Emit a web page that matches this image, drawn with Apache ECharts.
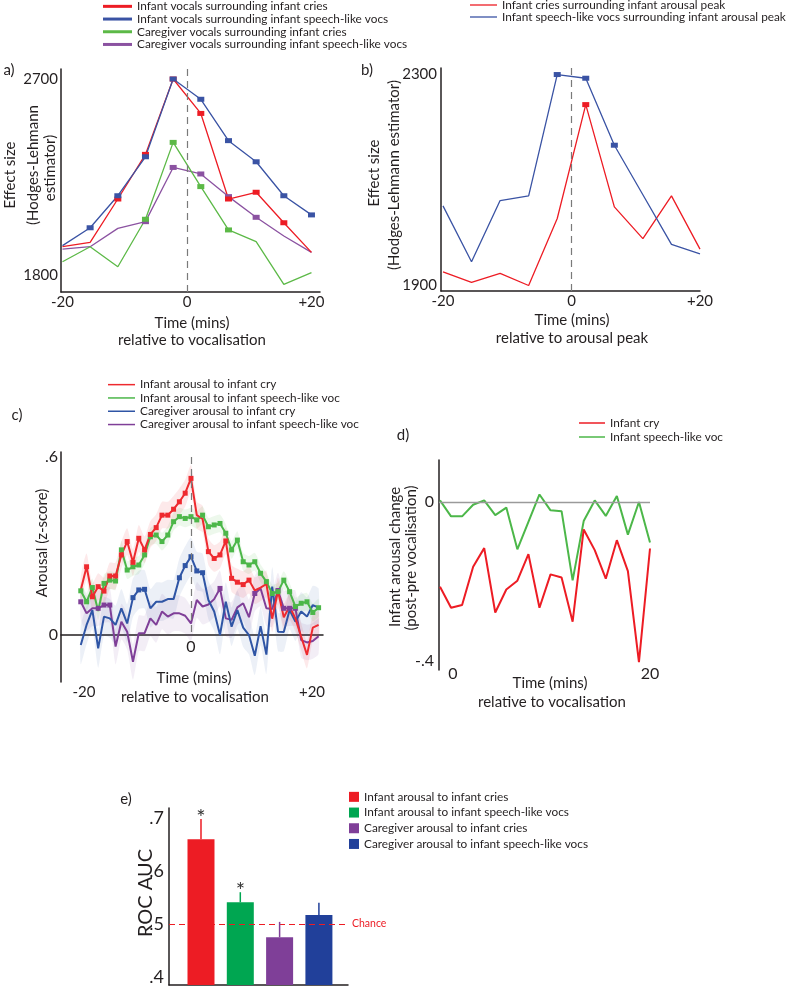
<!DOCTYPE html>
<html><head><meta charset="utf-8">
<script src="https://cdn.jsdelivr.net/npm/echarts@6/dist/echarts.min.js"></script>
<style>html,body{margin:0;padding:0;background:#fff}#c{width:789px;height:987px}</style>
</head><body><div id="c"></div>
<script>
// ---------- data ----------
// a) effect size around vocalisations
const aX = [-20, -15.56, -11.11, -6.67, -2.22, 2.22, 6.67, 11.11, 15.56, 20];
const aRed = [1930, 1950, 2149, 2354, 2700, 2542, 2149, 2180, 2040, 1904];
const aBlue = [1935, 2017, 2164, 2343, 2700, 2607, 2417, 2320, 2164, 2076];
const aGreen = [1861, 1930, 1838, 2056, 2409, 2206, 2007, 1953, 1757, 1811];
const aPurple = [1919, 1930, 2014, 2045, 2294, 2264, 2160, 2065, 1979, 1904];
const aRedMarks = [2, 3, 4, 5, 6, 7, 8];
const aBlueMarks = [1, 2, 3, 4, 5, 6, 7, 8, 9];
const aGreenMarks = [3, 4, 5, 6];
const aPurpleMarks = [3, 4, 5, 6, 7];
const aNames = ['Infant vocals surrounding infant cries', 'Infant vocals surrounding infant speech-like vocs',
  'Caregiver vocals surrounding infant cries', 'Caregiver vocals surrounding infant speech-like vocs'];
const aTicksX = [-20, 0, 20];
const aTicksY = [1800, 2700];

// b) effect size around arousal peak
const bX = [-20, -15.56, -11.11, -6.67, -2.22, 2.22, 6.67, 11.11, 15.56, 20];
const bRed = [1925, 1905, 1922, 1899, 2026, 2242, 2048, 1988, 2069, 1968];
const bBlue = [2050, 1944, 2060, 2069, 2299, 2292, 2165, 2071, 1977, 1959];
const bRedMarks = [5];
const bBlueMarks = [4, 5, 6];
const bNames = ['Infant cries surrounding infant arousal peak', 'Infant speech-like vocs surrounding infant arousal peak'];
const bTicksX = [-20, 0, 20];
const bTicksY = [1900, 2300];

// c) arousal time course
const cX = [-19,-18,-17,-16,-15,-14,-13,-12,-11,-10,-9,-8,-7,-6,-5,-4,-3,-2,-1,0,1,2,3,4,5,6,7,8,9,10,11,12,13,14,15,16,17,18,19,20,21,22];
const cRed = [0.152,0.230,0.129,0.163,0.148,0.199,0.199,0.270,0.315,0.245,0.326,0.287,0.339,0.362,0.404,0.404,0.424,0.449,0.478,0.528,
  0.404,0.391,0.281,0.258,0.270,0.317,0.191,0.178,0.170,0.185,0.150,0.160,0.172,0.055,0.148,0.060,0.096,0.056,-0.006,-0.067,0.025,0.034];
const cGreen = [0.149,0.112,0.160,0.081,0.174,0.185,0.182,0.287,0.219,0.230,0.236,0.270,0.331,0.337,0.315,0.337,0.382,0.399,0.393,0.399,
  0.388,0.404,0.365,0.371,0.376,0.343,0.287,0.320,0.247,0.236,0.247,0.208,0.180,0.140,0.146,0.185,0.146,0.096,0.107,0.112,0.076,0.092];
const cBlue = [-0.034,0.034,0.084,-0.045,0.062,0.056,0.034,0.090,0.039,0.126,0.152,0.154,0.090,0.112,0.112,0.121,0.121,0.193,0.234,0.264,
  0.216,0.210,0.118,0.079,0.000,0.112,0.028,0.084,0.025,0.000,-0.070,0.030,-0.066,0.163,0.011,0.010,0.084,0.045,0.079,0.062,0.101,0.092];
const cPurple = [0.112,0.073,0.090,0.090,0.101,0.101,-0.039,0.045,0.011,-0.090,0.006,0.006,0.056,0.034,0.079,0.062,0.073,0.073,0.065,0.039,
  0.118,0.096,0.103,0.121,0.157,0.056,0.051,0.093,0.107,0.060,0.140,0.157,0.090,0.088,0.150,0.090,0.090,0.090,-0.017,-0.025,-0.020,-0.004];
const cRedCI = 0.045, cGreenCI = 0.03, cBlueCI = 0.065, cPurpleCI = 0.06;
const cRedMarks = [1,2,3,4,5,6,7,8,9,10,11,12,13,14,15,16,17,18,19,22,23,24,25,26,27,28,29];
const cGreenMarks = [0,1,2,4,5,6,7,8,9,10,11,12,13,14,15,16,17,18,19,20,21,22,23,24,25,26,27,28,29,30,31,32,33,34,35,36,37,38,39,40,41];
const cBlueMarks = [9,10,11,17,18,19,20,21];
const cPurpleMarks = [0,3,4,5,24,30,34,35,36,37];
const cNames = ['Infant arousal to infant cry', 'Infant arousal to infant speech-like voc',
  'Caregiver arousal to infant cry', 'Caregiver arousal to infant speech-like voc'];

// d) infant arousal change
const dX = [0,1,2,3,4,5,6,7,8,9,10,11,12,13,14,15,16,17,18,19];
const dRed = [-0.213,-0.266,-0.259,-0.163,-0.116,-0.278,-0.220,-0.198,-0.131,-0.266,-0.182,-0.190,-0.301,-0.069,-0.121,-0.193,-0.096,-0.174,-0.403,-0.117];
const dGreen = [0.004,-0.036,-0.036,-0.007,0.004,-0.033,-0.014,-0.119,-0.050,0.019,-0.021,-0.023,-0.197,-0.048,0.004,-0.035,0.015,-0.082,0.000,-0.102];
const dNames = ['Infant cry', 'Infant speech-like voc'];

// e) ROC AUC
const eNames = ['Infant arousal to infant cries', 'Infant arousal to infant speech-like vocs',
  'Caregiver arousal to infant cries', 'Caregiver arousal to infant speech-like vocs'];
const eX = [1, 2, 3, 4];
const eVals = [0.660, 0.541, 0.475, 0.517];
const eErrTop = [0.698, 0.560, 0.504, 0.540];
const eStar = [true, true, false, false];
const eTicks = [0.4, 0.5, 0.6, 0.7];
const eChance = 0.5;

// ---------- styling ----------
const FONT = 'Lato';
const INK = '#231f20';
const RED = '#ed1c24', BLUE = '#3a53a4', GREEN = '#5cb947', PURPLE = '#8b52a1';
const cRedC = '#ee2a2f', cGreenC = '#4cb749', cBlueC = '#2f55a5', cPurpleC = '#7f3f98';
const eColors = ['#ed1c24', '#00a651', '#7f3f98', '#21409a'];

function pts(xs, ys, marks) {
  return xs.map((x, i) => ({ value: [x, ys[i]], symbol: marks.indexOf(i) >= 0 ? 'rect' : 'none' }));
}
function lineSeries(name, xi, xs, ys, marks, color, width, size) {
  return {
    name, type: 'line', xAxisIndex: xi, yAxisIndex: xi, data: pts(xs, ys, marks),
    symbol: 'rect', symbolSize: size, showAllSymbol: true,
    lineStyle: { color, width }, itemStyle: { color }, emphasis: { disabled: true }, z: 3
  };
}
function bandSeries(vals, hw, color) {
  return {
    type: 'custom', xAxisIndex: 2, yAxisIndex: 2, silent: true, z: 1,
    data: cX.map((x, i) => [x, vals[i] - hw, vals[i] + hw]),
    encode: { x: 0, y: [1, 2] },
    renderItem: function (params, api) {
      if (params.dataIndex !== 0) return;
      const up = [], dn = [];
      for (let i = 0; i < cX.length; i++) {
        up.push(api.coord([cX[i], vals[i] + hw]));
        dn.push(api.coord([cX[i], vals[i] - hw]));
      }
      return { type: 'polygon', shape: { points: up.concat(dn.reverse()), smooth: 0.2 }, style: { fill: color } };
    }
  };
}
const pm = v => (v > 0 ? '+' + v : String(v));
const axLine = { show: true, onZero: false, lineStyle: { color: INK, width: 1.5 } };
const noTick = { show: false };
const noSplit = { show: false };
function lbl(vals, fmt, size, margin, extra) {
  return Object.assign({ customValues: vals, formatter: fmt, fontSize: size, margin, color: INK, fontFamily: FONT }, extra || {});
}
function legend(left, top, names, w, h, lh, icon) {
  return {
    left, top, orient: 'vertical', data: names, icon: icon || 'rect', itemWidth: w, itemHeight: h, itemGap: 0, padding: 0,
    selectedMode: false, textStyle: { fontSize: 11.8, fontFamily: FONT, color: INK, lineHeight: lh }
  };
}
function txt(x, y, text, size, rot, color) {
  return {
    type: 'text', x, y, rotation: rot ? Math.PI / 2 : 0, silent: true,
    style: { text, font: size + 'px ' + FONT, fill: color || INK, align: 'center', verticalAlign: 'middle' }
  };
}
const dash0 = { silent: true, symbol: 'none', label: { show: false }, lineStyle: { color: '#7a7a7a', type: [7, 5], width: 1.2 } };

const option = {
  animation: false,
  backgroundColor: '#ffffff',
  textStyle: { fontFamily: FONT },
  grid: [
    { left: 61, top: 69, width: 259, height: 223 },
    { left: 441, top: 68, width: 259, height: 223 },
    { left: 61, top: 452, width: 262, height: 230 },
    { left: 439, top: 460, width: 211, height: 210 },
    { left: 169, top: 808, width: 179, height: 177 }
  ],
  xAxis: [
    { gridIndex: 0, type: 'value', min: -20.24, max: 21.37, axisLine: axLine, axisTick: noTick, splitLine: noSplit,
      axisLabel: lbl(aTicksX, pm, 15, 3) },
    { gridIndex: 1, type: 'value', min: -20.31, max: 20, axisLine: axLine, axisTick: noTick, splitLine: noSplit,
      axisLabel: lbl(bTicksX, pm, 15, 3) },
    { gridIndex: 2, type: 'value', min: -22.41, max: 22.76, axisLine: { show: true, onZero: true, lineStyle: { color: INK, width: 1.5 } },
      axisTick: noTick, splitLine: noSplit, axisLabel: { show: false } },
    { gridIndex: 3, type: 'value', min: -0.09, max: 19, offset: -12, axisLine: { show: false, onZero: false }, axisTick: noTick, splitLine: noSplit,
      axisLabel: lbl([0, 19], v => (v < 10 ? '{z|0}' : '20'), 16, 8, { rich: { z: { padding: [0, 0, 0, 26], fontSize: 16, fontFamily: FONT, color: INK } } }) },
    { gridIndex: 4, type: 'value', min: 0.186, max: 4.74, axisLine: axLine, axisTick: noTick, splitLine: noSplit, axisLabel: { show: false } }
  ],
  yAxis: [
    { gridIndex: 0, type: 'value', min: 1722, max: 2746, axisLine: axLine, axisTick: noTick, splitLine: noSplit,
      axisLabel: lbl(aTicksY, v => String(v), 15, 3) },
    { gridIndex: 1, type: 'value', min: 1888.6, max: 2311.4, axisLine: axLine, axisTick: noTick, splitLine: noSplit,
      axisLabel: lbl(bTicksY, v => String(v), 15, 4) },
    { gridIndex: 2, type: 'value', min: -0.1584, max: 0.6169, axisLine: axLine, axisTick: noTick, splitLine: noSplit,
      axisLabel: lbl([0, 0.6], v => (v === 0 ? '0' : '.6'), 16, 3) },
    { gridIndex: 3, type: 'value', min: -0.4226, max: 0.1057, axisLine: axLine, axisTick: noTick, splitLine: noSplit,
      axisLabel: lbl([0, -0.4], v => (v === 0 ? '0' : '-.4'), 16, 5) },
    { gridIndex: 4, type: 'value', min: 0.3849, max: 0.7189, axisLine: axLine, axisTick: noTick, splitLine: noSplit,
      axisLabel: lbl(eTicks, v => '.' + Math.round(v * 10), 18, 5) }
  ],
  legend: [
    legend(103, 0, aNames, 29, 3, 12.7),
    legend(470, -1, bNames, 27, 1.3, 12),
    legend(108, 378, cNames, 27, 1.5, 13.3),
    legend(579, 416, dNames, 26, 1.5, 14),
    legend(349, 789, eNames, 10, 10, 15.7)
  ],
  series: [
    // a
    Object.assign(lineSeries(aNames[3], 0, aX, aPurple, aPurpleMarks, PURPLE, 1.3, [7, 5]), {
      markLine: Object.assign({ data: [{ xAxis: 0 }] }, dash0) }),
    lineSeries(aNames[2], 0, aX, aGreen, aGreenMarks, GREEN, 1.3, [7, 5]),
    lineSeries(aNames[0], 0, aX, aRed, aRedMarks, RED, 1.3, [7, 5]),
    lineSeries(aNames[1], 0, aX, aBlue, aBlueMarks, BLUE, 1.3, [7, 5]),
    // b
    Object.assign(lineSeries(bNames[0], 1, bX, bRed, bRedMarks, RED, 1.3, [7, 5]), {
      markLine: Object.assign({ data: [{ xAxis: 0 }] }, dash0) }),
    lineSeries(bNames[1], 1, bX, bBlue, bBlueMarks, BLUE, 1.3, [7, 5]),
    // c bands
    bandSeries(cPurple, cPurpleCI, 'rgba(127,63,152,0.09)'),
    bandSeries(cBlue, cBlueCI, 'rgba(47,85,165,0.09)'),
    bandSeries(cGreen, cGreenCI, 'rgba(76,183,73,0.10)'),
    bandSeries(cRed, cRedCI, 'rgba(238,42,47,0.10)'),
    // c lines
    Object.assign(lineSeries(cNames[3], 2, cX, cPurple, cPurpleMarks, cPurpleC, 2, [5, 5]), {
      markLine: Object.assign({ data: [[{ coord: [0, 0.6] }, { coord: [0, 0] }]] }, dash0) }),
    lineSeries(cNames[2], 2, cX, cBlue, cBlueMarks, cBlueC, 2, [5, 5]),
    lineSeries(cNames[1], 2, cX, cGreen, cGreenMarks, cGreenC, 2, [5, 5]),
    lineSeries(cNames[0], 2, cX, cRed, cRedMarks, cRedC, 2, [5, 5]),
    // d
    Object.assign(lineSeries(dNames[1], 3, dX, dGreen, [], cGreenC, 2, 0), {
      markLine: { silent: true, symbol: 'none', label: { show: false }, data: [{ yAxis: 0 }],
        lineStyle: { color: '#9a9a9a', type: 'solid', width: 1.3 } } }),
    lineSeries(dNames[0], 3, dX, dRed, [], RED, 2, 0),
    // e bars
    ...eNames.map((n, i) => ({
      name: n, type: 'bar', xAxisIndex: 4, yAxisIndex: 4, data: [[eX[i], eVals[i]]],
      barWidth: 27, barGap: '-100%', itemStyle: { color: eColors[i] }, emphasis: { disabled: true }
    })),
    {
      type: 'custom', xAxisIndex: 4, yAxisIndex: 4, z: 10, silent: true,
      data: eX.map((x, i) => [x, eVals[i], eErrTop[i]]),
      encode: { x: 0, y: [1, 2] },
      renderItem: function (params, api) {
        const i = params.dataIndex;
        const p0 = api.coord([api.value(0), api.value(1)]);
        const p1 = api.coord([api.value(0), api.value(2)]);
        const children = [{ type: 'line', shape: { x1: p0[0], y1: p0[1], x2: p1[0], y2: p1[1] },
          style: { stroke: eColors[i], lineWidth: 1.5 } }];
        if (eStar[i]) children.push({ type: 'text', x: p1[0], y: p1[1] + 10,
          style: { text: '*', font: '22px ' + FONT, fill: '#333', align: 'center', verticalAlign: 'bottom' } });
        return { type: 'group', children };
      },
      markLine: { silent: true, symbol: 'none', data: [{ yAxis: eChance }],
        lineStyle: { color: '#ed1c24', type: [6, 4], width: 1.2 },
        label: { show: true, position: 'end', formatter: 'Chance', color: '#ed1c24', fontSize: 10.5, fontFamily: FONT, distance: 4 } }
    }
  ],
  graphic: [
    txt(9, 70, 'a)', 15), txt(367, 70, 'b)', 15), txt(17, 415, 'c)', 15), txt(403, 435, 'd)', 15), txt(126, 799, 'e)', 15),
    txt(10, 175, 'Effect size', 15, true), txt(33, 165, '(Hodges-Lehmann', 15, true), txt(50, 168, 'estimator)', 15, true),
    txt(192, 323, 'Time (mins)', 15), txt(192, 340, 'relative to vocalisation', 15),
    txt(374, 173, 'Effect size', 15, true), txt(394, 175, '(Hodges-Lehmann estimator)', 15, true),
    txt(572, 320, 'Time (mins)', 15), txt(572, 338, 'relative to arousal peak', 15),
    txt(42, 543, 'Arousal (z-score)', 15, true),
    txt(191, 647, '0', 16),
    txt(194, 678, 'Time (mins)', 15), txt(195, 697, 'relative to vocalisation', 15),
    txt(84, 692, '-20', 15), txt(312, 692, '+20', 15),
    txt(395, 557, 'Infant arousal change', 15, true), txt(411, 558, '(post-pre vocalisation)', 15, true),
    txt(550, 683, 'Time (mins)', 15), txt(552, 702, 'relative to vocalisation', 15),
    txt(146, 893, 'ROC AUC', 20, true)
  ]
};
const chart = echarts.init(document.getElementById('c'), null, { renderer: 'canvas', width: 789, height: 987 });
chart.setOption(option);
</script></body></html>
